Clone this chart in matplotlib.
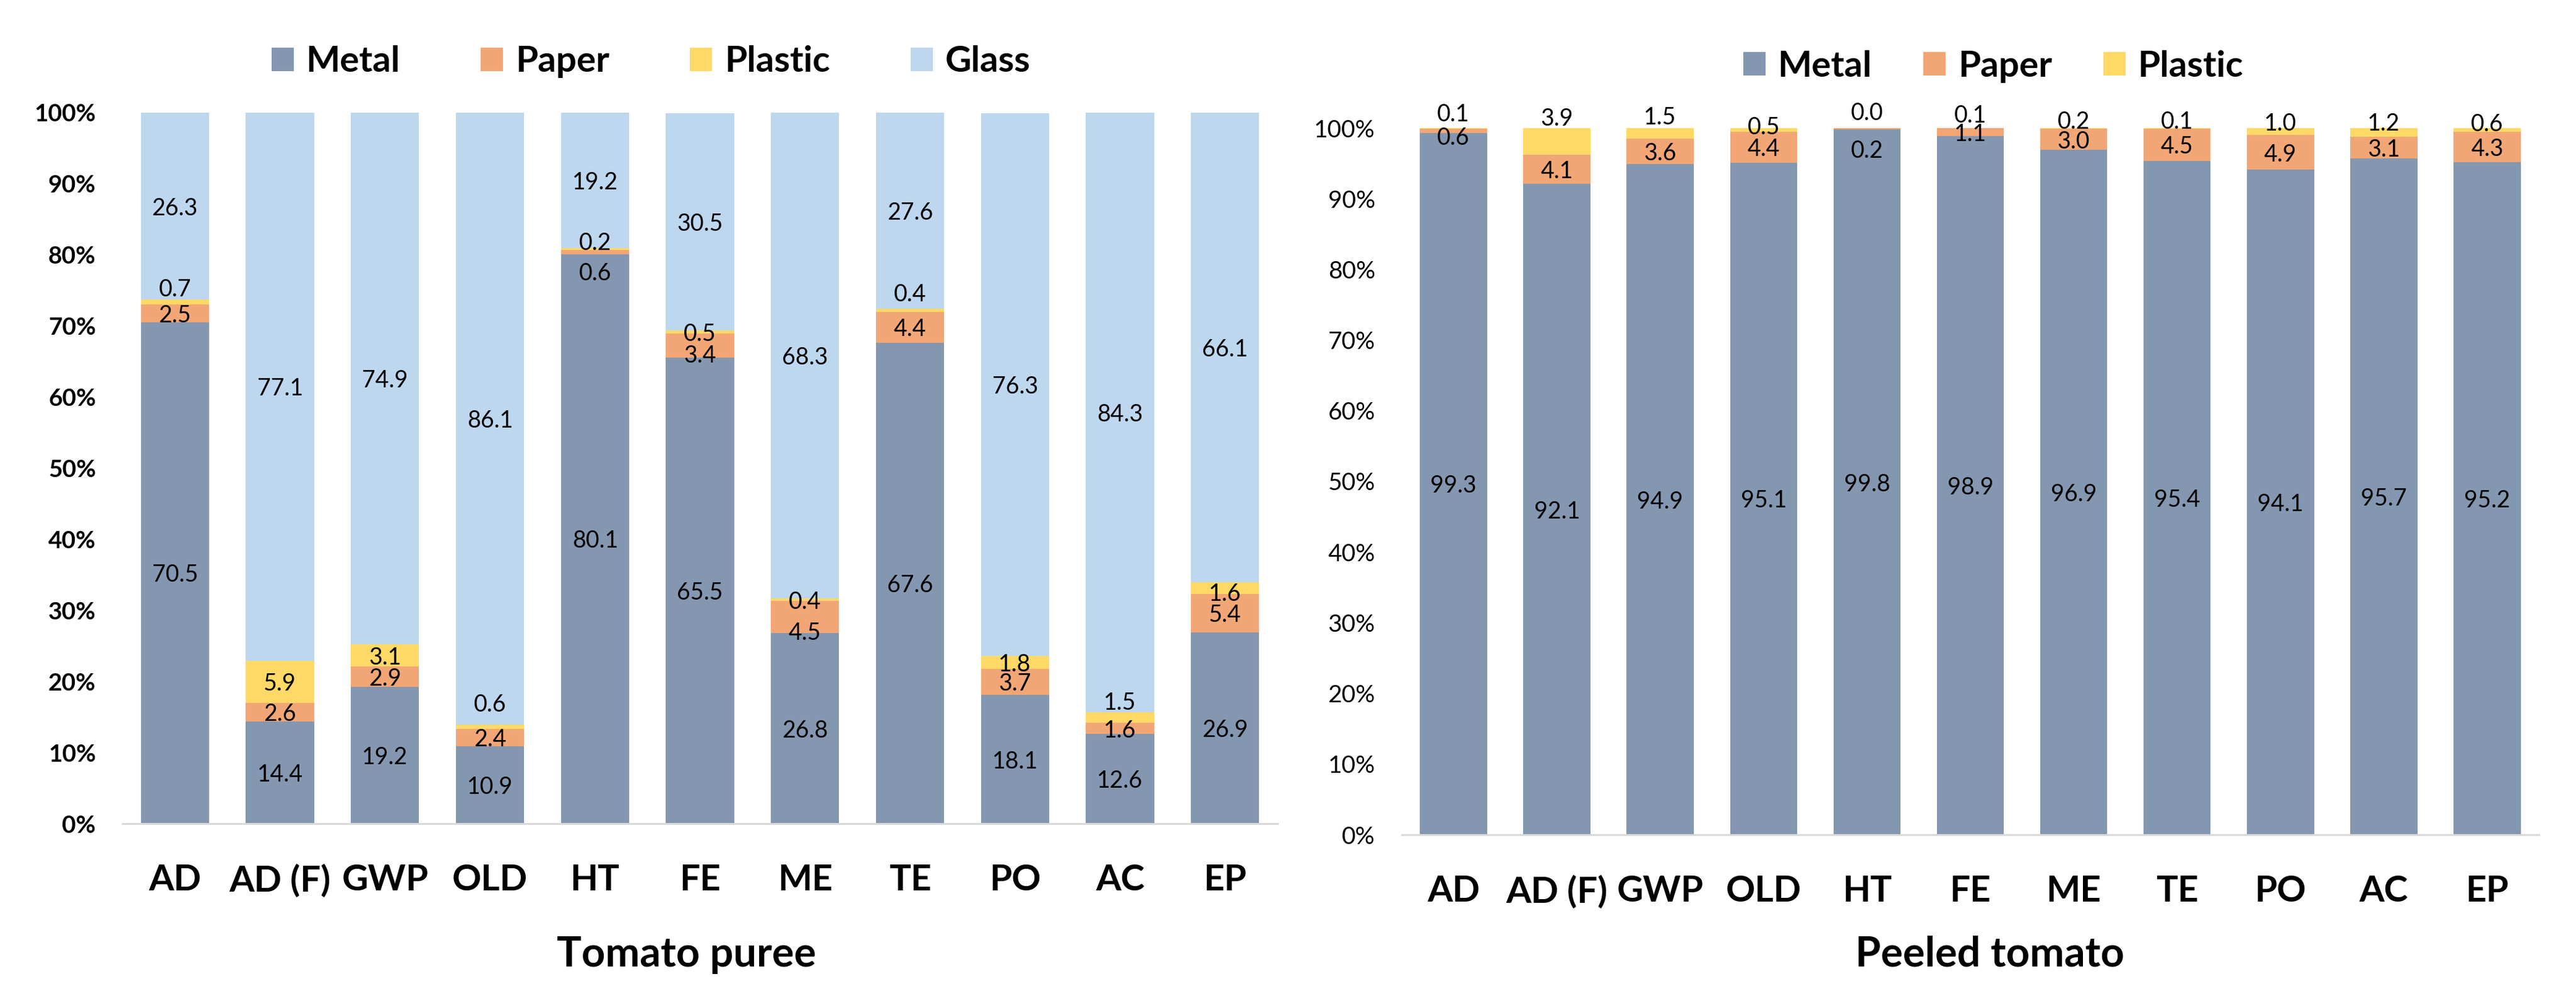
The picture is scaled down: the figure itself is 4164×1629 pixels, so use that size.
import numpy as np
import matplotlib.pyplot as plt

plt.rcParams['font.family'] = ['Lato', 'DejaVu Sans']

categories = ['AD', 'AD (F)', 'GWP', 'OLD', 'HT', 'FE', 'ME', 'TE', 'PO', 'AC', 'EP']

# Tomato puree, share of each packaging material (%)
puree_metal = [70.5, 14.4, 19.2, 10.9, 80.1, 65.5, 26.8, 67.6, 18.1, 12.6, 26.9]
puree_paper = [2.5, 2.6, 2.9, 2.4, 0.6, 3.4, 4.5, 4.4, 3.7, 1.6, 5.4]
puree_plastic = [0.7, 5.9, 3.1, 0.6, 0.2, 0.5, 0.4, 0.4, 1.8, 1.5, 1.6]
puree_glass = [26.3, 77.1, 74.9, 86.1, 19.2, 30.5, 68.3, 27.6, 76.3, 84.3, 66.1]

# Peeled tomato (%)
peeled_metal = [99.3, 92.1, 94.9, 95.1, 99.8, 98.9, 96.9, 95.4, 94.1, 95.7, 95.2]
peeled_paper = [0.6, 4.1, 3.6, 4.4, 0.2, 1.1, 3.0, 4.5, 4.9, 3.1, 4.3]
peeled_plastic = [0.1, 3.9, 1.5, 0.5, 0.0, 0.1, 0.2, 0.1, 1.0, 1.2, 0.6]

materials = ['Metal', 'Paper', 'Plastic', 'Glass']
colors = {'Metal': '#8497B0', 'Paper': '#F2A675', 'Plastic': '#FFD966', 'Glass': '#BDD7EE'}

# labels that were moved by hand in the original (shift in % points)
puree_shift = {('Paper', 4): -2.7, ('Paper', 5): -1.1, ('Paper', 6): -1.9,
               ('Plastic', 0): 2.1, ('Plastic', 3): 3.4, ('Plastic', 4): 1.1,
               ('Plastic', 7): 2.5, ('Plastic', 9): 2.3, ('Plastic', 10): -0.5}
peeled_shift = {('Paper', 0): -0.7, ('Paper', 4): -2.8}
for i, s in enumerate([2.25, 3.45, 2.55, 0.65, 2.4, 2.05, 1.2, 1.25, 1.4, 1.5, 1.0]):
    peeled_shift[('Plastic', i)] = s

W, H = 4164, 1629
fig = plt.figure(figsize=(W / 100, H / 100), dpi=100)
ax1 = fig.add_axes([198 / W, (H - 1331) / H, (2065 - 198) / W, 1149 / H])
ax2 = fig.add_axes([2266 / W, (H - 1349) / H, (4104 - 2266) / W, 1142 / H])


def draw(ax, series, shift, ytick_weight):
    x = np.arange(len(categories))
    bottom = np.zeros(len(categories))
    for name, vals in series:
        vals = np.array(vals)
        ax.bar(x, vals, 0.65, bottom=bottom, color=colors[name], label=name)
        for i in range(len(x)):
            y = bottom[i] + vals[i] / 2 + shift.get((name, i), 0)
            ax.text(x[i], y, f'{vals[i]:.1f}', ha='center', va='center_baseline',
                    fontsize=27, color='black')
        bottom += vals
    ax.set_xlim(-0.5, len(x) - 0.5)
    ax.set_ylim(0, 100)
    ax.set_xticks(x)
    ax.set_xticklabels(categories, fontsize=42, fontweight='bold')
    ax.set_yticks(np.arange(0, 101, 10))
    ax.set_yticklabels([f'{t}%' for t in range(0, 101, 10)], fontsize=28,
                       fontweight=ytick_weight)
    ax.tick_params(axis='x', length=0, pad=47)
    ax.tick_params(axis='y', length=0, pad=31)
    for s in ['top', 'left', 'right']:
        ax.spines[s].set_visible(False)
    ax.spines['bottom'].set_color('#D9D9D9')
    ax.spines['bottom'].set_linewidth(2.2)


draw(ax1, [('Metal', puree_metal), ('Paper', puree_paper),
           ('Plastic', puree_plastic), ('Glass', puree_glass)], puree_shift, 'bold')
draw(ax2, [('Metal', peeled_metal), ('Paper', peeled_paper),
           ('Plastic', peeled_plastic)], peeled_shift, 'normal')

leg_kw = dict(loc='center', frameon=False, prop={'weight': 'bold', 'size': 42},
              handlelength=0.62, handleheight=0.62, handletextpad=0.34,
              borderpad=0, borderaxespad=0)
h1, l1 = ax1.get_legend_handles_labels()
fig.legend(h1, l1, ncol=4, bbox_to_anchor=(1052 / W, 1 - 100 / H),
           columnspacing=2.23, **leg_kw)
h2, l2 = ax2.get_legend_handles_labels()
fig.legend(h2, l2, ncol=3, bbox_to_anchor=(3222 / W, 1 - 107 / H),
           columnspacing=1.42, **leg_kw)

fig.text(1110 / W, (H - 1562) / H, 'Tomato puree', ha='center', va='baseline',
         fontsize=48, fontweight='bold')
fig.text(3216 / W, (H - 1562) / H, 'Peeled tomato', ha='center', va='baseline',
         fontsize=48, fontweight='bold')

fig.savefig('out.png', dpi=100)
